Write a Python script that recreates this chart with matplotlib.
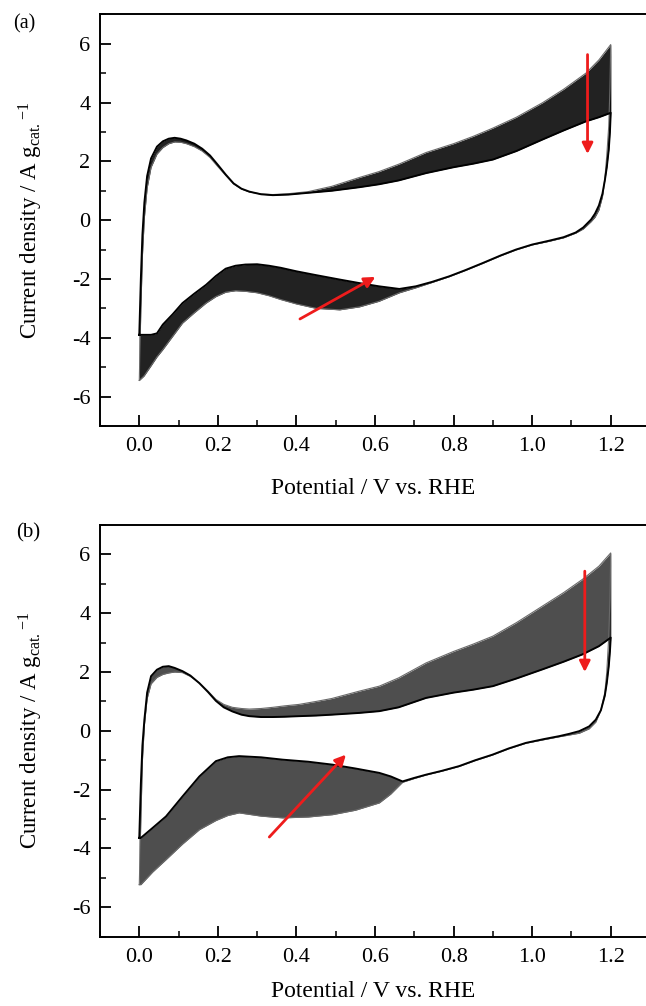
import matplotlib
matplotlib.use("Agg")
import matplotlib.pyplot as plt
import numpy as np

plt.rcParams['font.family'] = ['Liberation Serif', 'DejaVu Serif']
plt.rcParams['mathtext.fontset'] = 'custom'
plt.rcParams['mathtext.rm'] = 'Liberation Serif'
plt.rcParams['mathtext.it'] = 'Liberation Serif:italic'

# ---------------- panel (a) data ----------------
E_a_anodic = [0.0, 0.004, 0.008, 0.013, 0.02, 0.03, 0.045, 0.06, 0.075, 0.09, 0.105, 0.12,
              0.14, 0.16, 0.18, 0.2, 0.22, 0.24, 0.26, 0.28, 0.31, 0.34, 0.38, 0.43, 0.49,
              0.56, 0.61, 0.66, 0.73, 0.80, 0.85, 0.90, 0.96, 1.026, 1.08, 1.137, 1.17, 1.20]
I_a_anodic_first = [-5.45, -3.0, -1.2, 0.1, 1.1, 1.8, 2.25, 2.47, 2.6, 2.66, 2.65, 2.6,
                    2.5, 2.35, 2.13, 1.82, 1.52, 1.23, 1.06, 0.96, 0.89, 0.87, 0.9, 0.97, 1.15,
                    1.45, 1.65, 1.9, 2.3, 2.6, 2.85, 3.13, 3.5, 3.99, 4.45, 5.0, 5.45, 5.97]
I_a_anodic_last = [-3.9, -2.0, -0.5, 0.6, 1.5, 2.1, 2.5, 2.68, 2.77, 2.8, 2.77, 2.71,
                   2.6, 2.43, 2.2, 1.88, 1.55, 1.25, 1.07, 0.97, 0.88, 0.85, 0.87, 0.93, 1.0,
                   1.12, 1.22, 1.35, 1.6, 1.8, 1.92, 2.06, 2.35, 2.74, 3.05, 3.36, 3.5, 3.65]
E_a_cath = [1.20, 1.198, 1.195, 1.19, 1.185, 1.179, 1.17, 1.16, 1.15, 1.13, 1.111, 1.08,
            1.043, 1.0, 0.959, 0.92, 0.874, 0.83, 0.789, 0.745, 0.704, 0.662, 0.61, 0.56,
            0.51, 0.45, 0.40, 0.36, 0.33, 0.30, 0.27, 0.245, 0.22, 0.195, 0.17, 0.14, 0.11,
            0.085, 0.06, 0.045, 0.03, 0.012, 0.0]
I_a_cath_first = [5.97, 4.5, 3.2, 2.2, 1.4, 0.8, 0.35, 0.1, -0.05, -0.3, -0.44, -0.6,
                  -0.72, -0.84, -1.01, -1.21, -1.47, -1.71, -1.92, -2.12, -2.3, -2.47, -2.76, -2.95,
                  -3.05, -3.0, -2.85, -2.7, -2.57, -2.47, -2.42, -2.4, -2.45, -2.6, -2.82, -3.15, -3.5,
                  -3.95, -4.4, -4.65, -4.95, -5.3, -5.45]
I_a_cath_last = [3.65, 3.0, 2.4, 1.8, 1.35, 0.9, 0.5, 0.22, 0.02, -0.25, -0.42, -0.58,
                 -0.7, -0.83, -1.0, -1.2, -1.46, -1.7, -1.91, -2.1, -2.25, -2.34, -2.25, -2.14,
                 -2.02, -1.87, -1.74, -1.62, -1.55, -1.5, -1.51, -1.55, -1.65, -1.9, -2.2, -2.5, -2.82,
                 -3.2, -3.55, -3.85, -3.9, -3.9, -3.9]

# ---------------- panel (b) data ----------------
E_b_anodic = [0.0, 0.004, 0.008, 0.013, 0.02, 0.03, 0.045, 0.06, 0.075, 0.09, 0.11, 0.13,
              0.153, 0.175, 0.195, 0.215, 0.237, 0.26, 0.28, 0.31, 0.34, 0.37, 0.407, 0.45,
              0.49, 0.56, 0.611, 0.66, 0.73, 0.80, 0.85, 0.90, 0.96, 1.026, 1.08, 1.128, 1.17, 1.20]
I_b_anodic_first = [-5.23, -3.0, -1.0, 0.2, 1.1, 1.6, 1.82, 1.92, 1.97, 2.0, 1.98, 1.85,
                    1.63, 1.35, 1.07, 0.9, 0.8, 0.76, 0.74, 0.76, 0.8, 0.85, 0.9, 1.0,
                    1.1, 1.35, 1.52, 1.8, 2.31, 2.7, 2.95, 3.22, 3.68, 4.24, 4.7, 5.15, 5.6, 6.05]
I_b_anodic_last = [-3.64, -1.8, -0.5, 0.38, 1.3, 1.86, 2.08, 2.18, 2.2, 2.14, 2.03, 1.88,
                   1.62, 1.32, 1.02, 0.8, 0.66, 0.55, 0.5, 0.47, 0.47, 0.48, 0.5, 0.52,
                   0.55, 0.61, 0.67, 0.8, 1.12, 1.3, 1.4, 1.52, 1.78, 2.09, 2.35, 2.6, 2.88, 3.17]
E_b_cath = [1.20, 1.198, 1.195, 1.19, 1.185, 1.175, 1.162, 1.145, 1.12, 1.095, 1.069, 1.03,
            0.984, 0.94, 0.899, 0.855, 0.814, 0.77, 0.73, 0.70, 0.67, 0.64, 0.611, 0.55,
            0.492, 0.43, 0.365, 0.31, 0.254, 0.225, 0.195, 0.153, 0.11, 0.068, 0.034, 0.004, 0.0]
I_b_cath_first = [6.05, 4.5, 3.2, 2.0, 1.3, 0.7, 0.3, 0.07, -0.08, -0.14, -0.2, -0.3,
                  -0.42, -0.61, -0.82, -1.01, -1.21, -1.37, -1.5, -1.62, -1.75, -2.15, -2.45, -2.7,
                  -2.85, -2.93, -2.96, -2.9, -2.79, -2.88, -3.05, -3.36, -3.85, -4.38, -4.8, -5.23, -5.23]
I_b_cath_last = [3.17, 2.7, 2.2, 1.63, 1.2, 0.7, 0.38, 0.15, -0.01, -0.1, -0.18, -0.28,
                 -0.41, -0.6, -0.81, -1.0, -1.2, -1.36, -1.49, -1.6, -1.72, -1.55, -1.43, -1.28,
                 -1.15, -1.05, -0.98, -0.9, -0.86, -0.9, -1.03, -1.55, -2.23, -2.91, -3.30, -3.64, -3.64]

# arrows (tail, head) in data coords
arrows_a = [((1.141, 5.63), (1.141, 2.25)), ((0.409, -3.36), (0.601, -1.93))]
arrows_b = [((1.134, 5.43), (1.134, 2.0)), ((0.331, -3.61), (0.526, -0.81))]

xticks = [0.0, 0.2, 0.4, 0.6, 0.8, 1.0, 1.2]
xticklabels = ['0.0', '0.2', '0.4', '0.6', '0.8', '1.0', '1.2']
yticks = [-6, -4, -2, 0, 2, 4, 6]
yticklabels = ['-6', '-4', '-2', '0', '2', '4', '6']

fig = plt.figure(figsize=(6.46, 10.06), dpi=100)
W, H = 646, 1006
ax_a = fig.add_axes([100 / W, 1 - 426 / H, 550 / W, 411.7 / H])
ax_b = fig.add_axes([100 / W, 1 - 936.7 / H, 550 / W, 411.7 / H])


def draw(ax, Ea, Iaf, Ial, Ec, Icf, Icl, arrows, fillc, falpha):
    ax.fill_between(Ea, Iaf, Ial, color=fillc, alpha=falpha, lw=0)
    ax.fill_between(Ec, Icf, Icl, color=fillc, alpha=falpha, lw=0)
    ax.plot(list(Ea) + list(Ec), list(Iaf) + list(Icf), color='#6a6a6a', lw=0.8,
            solid_joinstyle='round')
    ax.plot(list(Ea) + list(Ec), list(Ial) + list(Icl), color='black', lw=1.4,
            solid_joinstyle='round')
    for tail, head in arrows:
        ax.annotate('', xy=head, xytext=tail,
                    arrowprops=dict(arrowstyle='-|>', color='#ee1c1c', lw=2.0,
                                    mutation_scale=16, shrinkA=0, shrinkB=0))
    ax.set_xlim(-0.1, 1.3)
    ax.set_ylim(-7, 7)
    ax.set_xticks(xticks)
    ax.set_xticklabels(xticklabels)
    ax.set_yticks(yticks)
    ax.set_yticklabels(yticklabels)
    ax.set_xticks(np.arange(-0.1, 1.31, 0.1), minor=True)
    ax.set_yticks(np.arange(-7, 7.1, 1), minor=True)
    ax.tick_params(which='major', direction='in', length=8, width=1.3, labelsize=16,
                   top=False, right=False)
    ax.tick_params(axis='x', which='major', pad=8)
    ax.tick_params(axis='y', which='major', pad=7)
    ax.tick_params(which='minor', direction='in', length=4.5, width=1.1, top=False, right=False)
    for s in ax.spines.values():
        s.set_linewidth(1.4)
    ax.set_xlabel('Potential / V vs. RHE', fontsize=17)
    ax.set_ylabel(r'Current density / A g$_{\mathrm{cat.}}$$^{\mathrm{-1}}$', fontsize=16.5)
    ax.yaxis.set_label_coords(-0.1, 0.5)


draw(ax_a, E_a_anodic, I_a_anodic_first, I_a_anodic_last,
     E_a_cath, I_a_cath_first, I_a_cath_last, arrows_a, '#0a0a0a', 0.9)
draw(ax_b, E_b_anodic, I_b_anodic_first, I_b_anodic_last,
     E_b_cath, I_b_cath_first, I_b_cath_last, arrows_b, '#222222', 0.8)

ax_a.xaxis.set_label_coords(0.497, -0.127)
ax_b.xaxis.set_label_coords(0.497, -0.108)

fig.text(13 / W, 1 - 24 / H, '(a)', fontsize=14.5, ha='left', va='center')
fig.text(16 / W, 1 - 533 / H, '(b)', fontsize=15, ha='left', va='center')

fig.savefig('out.png', dpi=100)
